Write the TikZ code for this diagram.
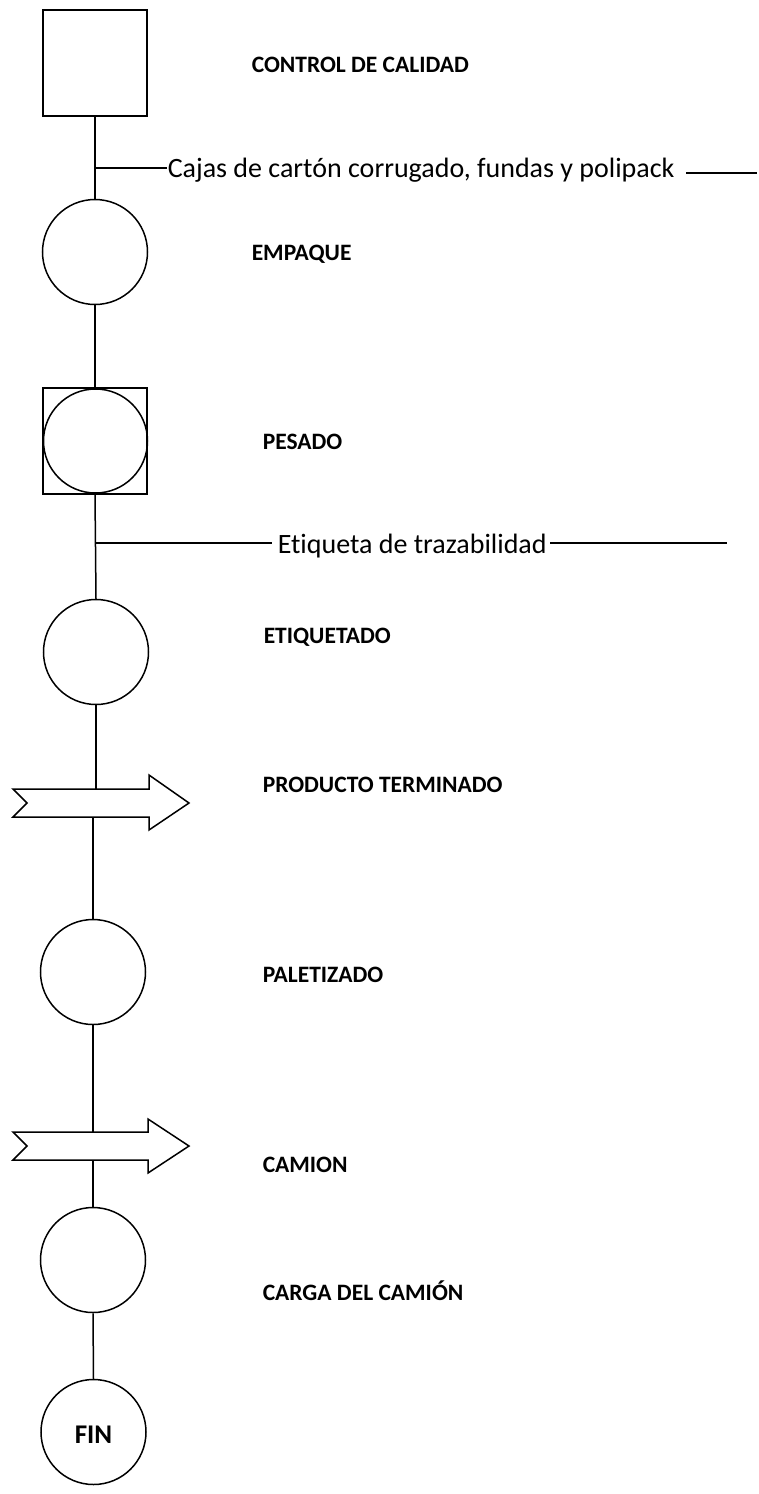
\documentclass[tikz,border=0pt]{standalone}
\usepackage{fontspec}
\setmainfont[Ligatures={NoCommon}]{Carlito}
\begin{document}
\begin{tikzpicture}[x=1pt,y=-1pt, line width=1.5pt,
  box/.style={draw, rectangle, minimum width=104pt, minimum height=106pt, inner sep=0pt},
  op/.style={draw, circle, minimum size=105pt, inner sep=0pt},
  lbl/.style={anchor=base west, inner sep=0pt, font=\fontsize{23.5}{28}\selectfont\bfseries},
  mat/.style={anchor=base west, inner sep=0pt, font=\fontsize{28}{32}\selectfont},
  flow/.style={draw, line width=1.5pt},
  bigarrow/.style={draw, line width=1.5pt, line join=miter},
]
\useasboundingbox (0,0) rectangle (759,1494);

% process symbols
\node[box] (cc) at (95,63) {};
\node[op] (emp) at (95,252) {};
\node[box] (pes) at (95,441) {};
\node[op, minimum size=104pt] (pesc) at (95.5,441) {};
\node[op] (eti) at (96,652) {};
\node[op] (pal) at (93,972) {};
\node[op] (car) at (93,1260) {};
\node[op] (fin) at (93.5,1432) {};
\node[anchor=base, inner sep=0pt, font=\fontsize{27}{30}\selectfont\bfseries] (fintxt) at (93.5,1443) {FIN};

% transport arrows
\draw[bigarrow] (13,789) -- (149,789) -- (149,775) -- (189,803) -- (149,830) -- (149,817) -- (13,817) -- (27,803) -- cycle;
\draw[bigarrow] (13,1132) -- (148,1132) -- (148,1119) -- (189,1146) -- (148,1173) -- (148,1160) -- (13,1160) -- (27,1146) -- cycle;
\coordinate (a1t) at (96,789);
\coordinate (a1b) at (93,817);
\coordinate (a2t) at (93,1132);
\coordinate (a2b) at (93,1160);

% labels
\node[lbl] (lcc) at (251,72) {CONTROL DE CALIDAD};
\node[lbl] (lemp) at (251,260) {EMPAQUE};
\node[lbl] (lpes) at (262,449) {PESADO};
\node[lbl] (leti) at (263,643) {ETIQUETADO};
\node[lbl] (lpt) at (262,792) {PRODUCTO TERMINADO};
\node[lbl] (lpal) at (262,982) {PALETIZADO};
\node[lbl] (lcam) at (262,1172) {CAMION};
\node[lbl] (lcar) at (262,1300) {CARGA DEL CAMIÓN};

% material inputs
\node[mat] (cajas) at (167,177) {Cajas de cartón corrugado, fundas y polipack};
\node[mat] (etiq) at (277,553) {Etiqueta de trazabilidad};
\coordinate (j1) at (95,168);
\coordinate (c1s) at (686,173);
\coordinate (c1e) at (757,173);
\coordinate (j2) at (96,543);
\coordinate (e1s) at (550,543);
\coordinate (e1e) at (727,543);

% connectors
\draw[flow] (cc.south) -- (emp.north);
\draw[flow] (j1) -- (j1 -| cajas.west);
\draw[flow] (c1s) -- (c1e);
\draw[flow] (emp.south) -- (pes.north);
\draw[flow] (pes.south) -- (eti.north);
\draw[flow] (j2) -- ([xshift=-5pt]j2 -| etiq.west);
\draw[flow] (e1s) -- (e1e);
\draw[flow] (eti.south) -- (a1t);
\draw[flow] (a1b) -- (pal.north);
\draw[flow] (pal.south) -- (a2t);
\draw[flow] (a2b) -- (car.north);
\draw[flow] (car.south) -- (fin.north);
\end{tikzpicture}
\end{document}
